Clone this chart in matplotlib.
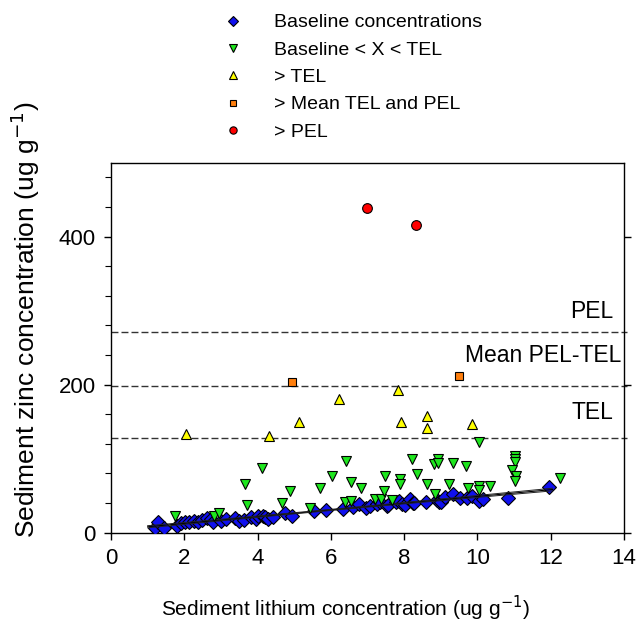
import numpy as np
import matplotlib
matplotlib.use('Agg')
import matplotlib.pyplot as plt

plt.rcParams['font.family'] = ['Liberation Sans', 'DejaVu Sans']

# ---- data ----
baseline_x = [1.20, 1.29, 1.45, 1.81, 1.91, 2.02, 2.14, 2.27, 2.37, 2.47, 2.63, 2.74, 2.79,
              2.99, 3.15, 3.38, 3.50, 3.64, 3.82, 3.97, 4.02, 4.14, 4.21, 4.29, 4.43, 4.75,
              4.95, 5.54, 5.86, 6.34, 6.61, 6.77, 6.97, 7.06, 7.25, 7.34, 7.52, 7.56, 7.79,
              7.86, 7.95, 8.02, 8.15, 8.24, 8.27, 8.59, 8.90, 8.95, 9.00, 9.11, 9.34, 9.52,
              9.72, 9.86, 10.04, 10.15, 10.84, 11.95]
baseline_y = [6, 14, 6, 9, 13, 14, 14, 16, 14, 17, 20, 18, 14,
              16, 19, 20, 16, 17, 21, 19, 22, 23, 21, 19, 21, 27,
              22, 29, 31, 32, 35, 39, 34, 36, 39, 41, 36, 38, 42,
              43, 39, 38, 46, 40, 40, 41, 44, 42, 41, 48, 52, 47,
              47, 50, 43, 45, 47, 62]

below_tel_x = [1.75, 2.82, 2.95, 3.65, 3.70, 4.13, 4.67, 4.89, 5.43, 5.70, 6.02, 6.41, 6.38,
               6.54, 6.55, 6.83, 7.20, 7.38, 7.47, 7.44, 7.68, 7.88, 7.90, 8.22, 8.35, 8.63,
               8.82, 8.84, 8.93, 8.93, 9.23, 9.33, 9.68, 9.73, 10.03, 10.03, 10.04, 10.34,
               11.02, 11.02, 11.02, 10.95, 11.04, 11.02, 12.24]
below_tel_y = [22, 22, 27, 66, 37, 88, 40, 56, 33, 60, 77, 97, 42,
               68, 43, 60, 45, 46, 77, 56, 44, 73, 66, 100, 79, 66,
               93, 52, 100, 94, 66, 94, 90, 60, 122, 63, 58, 63,
               104, 100, 96, 85, 76, 70, 74]

above_tel_x = [2.05, 4.30, 5.13, 6.22, 7.82, 7.92, 8.62, 8.62, 9.84]
above_tel_y = [133, 131, 150, 180, 193, 149, 158, 142, 147]

above_mean_x = [4.94, 9.49]
above_mean_y = [204, 212]

above_pel_x = [6.98, 8.32]
above_pel_y = [439, 415]

guide_values = [128, 197.5, 271]
guide_labels = ['TEL', 'Mean PEL-TEL', 'PEL']

legend_labels = ['Baseline concentrations', 'Baseline < X < TEL', '> TEL',
                 '> Mean TEL and PEL', '> PEL']

x_ticks = [0, 2, 4, 6, 8, 10, 12, 14]
y_ticks = [0, 200, 400]

# ---- figure ----
fig = plt.figure(figsize=(6.4, 6.22), dpi=100)
ax = fig.add_axes([111 / 640, 1 - 532.7 / 622, (624 - 111) / 640, (532.7 - 162.5) / 622])

# baseline regression with 95% confidence band
bx = np.array(baseline_x)
by = np.array(baseline_y)
slope, intercept = np.polyfit(bx, by, 1)
n = len(bx)
resid = by - (slope * bx + intercept)
s = np.sqrt(np.sum(resid ** 2) / (n - 2))
xf = np.linspace(bx.min() - 0.2, bx.max() + 0.1, 100)
yf = slope * xf + intercept
se = s * np.sqrt(1 / n + (xf - bx.mean()) ** 2 / np.sum((bx - bx.mean()) ** 2))
ci = 2.0 * se

edge = dict(markeredgecolor='black', markeredgewidth=0.8, linestyle='none')
h_base, = ax.plot(bx, by, 'D', color='#1010ee', markersize=6.8, zorder=3, **edge)
ax.plot(xf, yf, color='black', lw=0.8, zorder=4)
ax.plot(xf, yf + ci, color='#222222', lw=0.7, zorder=4)
ax.plot(xf, yf - ci, color='#222222', lw=0.7, zorder=4)
h_low, = ax.plot(below_tel_x, below_tel_y, 'v', color='#1ee61e', markersize=7.5, zorder=5, **edge)
h_tel, = ax.plot(above_tel_x, above_tel_y, '^', color='#ffff00', markersize=7.5, zorder=5, **edge)
h_mean, = ax.plot(above_mean_x, above_mean_y, 's', color='#ff7f0e', markersize=6.3, zorder=5, **edge)
h_pel, = ax.plot(above_pel_x, above_pel_y, 'o', color='#ff0000', markersize=7, zorder=5, **edge)

# guideline dashed lines and labels
label_pos = {'TEL': (13.72, 163), 'Mean PEL-TEL': (13.93, 239), 'PEL': (13.72, 299)}
for val, lab in zip(guide_values, guide_labels):
    ln = ax.axhline(val, xmin=0, xmax=1.006, color='#333333', lw=1.0, clip_on=False, zorder=2)
    ln.set_dashes([5, 2.2])
    tx, ty = label_pos[lab]
    ax.text(tx, ty, lab, ha='right', va='center', fontsize=16.5)

ax.set_xlim(0, 14)
ax.set_ylim(0, 500)
ax.set_xticks(x_ticks)
ax.set_yticks(y_ticks)
ax.set_yticks(np.arange(0, 501, 40), minor=True)
ax.tick_params(axis='both', which='major', direction='out', length=5, width=1,
               labelsize=16, pad=6)
ax.tick_params(axis='y', which='minor', direction='out', length=4, width=0.8)
ax.tick_params(axis='y', which='major', right=True)
for sp in ax.spines.values():
    sp.set_linewidth(1.0)

ax.set_xlabel('Sediment lithium concentration (ug g$^{-1}$)', fontsize=15)
ax.xaxis.set_label_coords((345 - 111) / 513, (532.7 - 594) / 370.2)
ax.set_ylabel('Sediment zinc concentration (ug g$^{-1}$)', fontsize=19)
ax.yaxis.set_label_coords((42 - 111) / 513, (532.7 - 320) / 370.2)

leg = fig.legend([h_base, h_low, h_tel, h_mean, h_pel], legend_labels,
                 loc='upper left', bbox_to_anchor=(204 / 640, 1 - 4 / 622),
                 frameon=False, fontsize=14, handlelength=2.0, handletextpad=1.1,
                 labelspacing=0.5, borderpad=0, markerscale=0.75)

fig.savefig('out.png', dpi=100)
